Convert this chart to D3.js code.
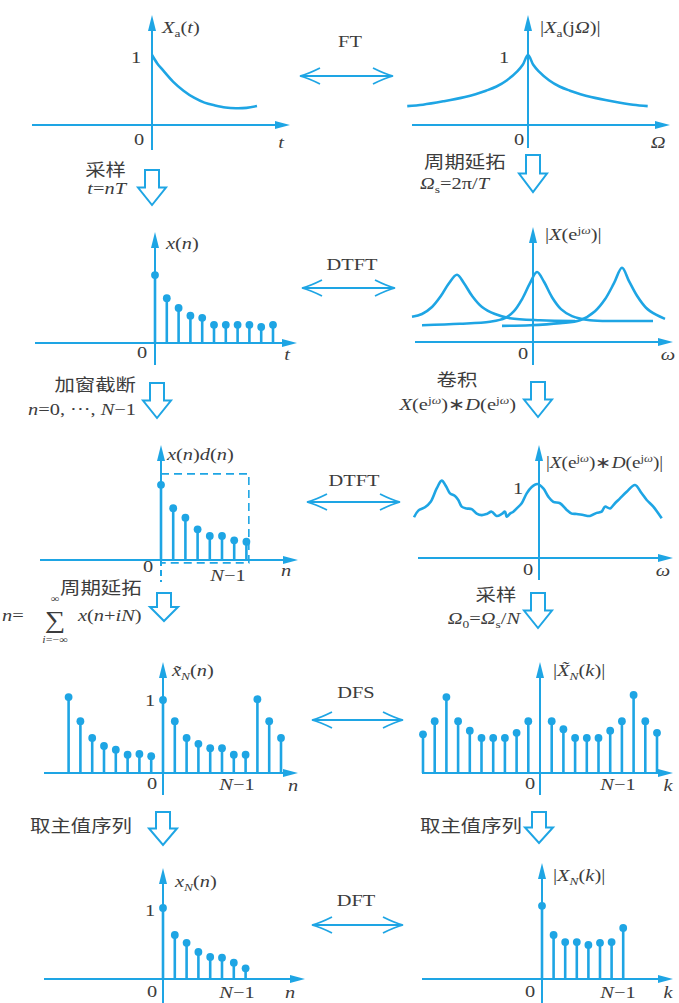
<!DOCTYPE html>
<html>
<head>
<meta charset="utf-8">
<script src="https://cdn.jsdelivr.net/npm/d3@7"></script>
<style>
  body { margin: 0; background: #fff; }
  svg text { font-family: "Liberation Serif", "Noto Sans CJK SC", serif; fill: #3c3c3c; }
</style>
</head>
<body>
<script>
// ---- data ----
// x_a(t), continuous decaying signal
var xaT   = [0, 0.5, 1, 2, 3, 4, 5, 6, 7, 8, 9, 10];
var xaVal = [1, 0.88, 0.79, 0.62, 0.49, 0.39, 0.32, 0.28, 0.25, 0.24, 0.245, 0.27];

// |X_a(jΩ)|
var XaOmega = [-11.5, -10, -8, -6, -5, -4, -3, -2, -1, -0.5, 0, 0.5, 1, 2, 3, 4, 5, 6, 8, 10, 11.4];
var XaMag   = [0.27, 0.29, 0.34, 0.40, 0.44, 0.49, 0.55, 0.64, 0.77, 0.86, 1, 0.86, 0.77, 0.64, 0.55, 0.49, 0.44, 0.40, 0.34, 0.29, 0.27];

// x(n), n = 0..10
var xn = [0.97, 0.64, 0.50, 0.39, 0.36, 0.26, 0.26, 0.26, 0.26, 0.23, 0.26];

// |X(e^jω)|, three shifted copies [ω, value]
var dtftA = [[-12.1,0.36],[-11.1,0.40],[-10.1,0.50],[-9.2,0.66],[-8.4,0.84],[-7.6,0.96],[-6.9,0.84],[-6.1,0.66],[-5.1,0.50],[-3.8,0.40],[-2.3,0.34],[0.7,0.31],[4.2,0.30]];
var dtftB = [[-11.1,0.24],[-7.3,0.26],[-4.3,0.29],[-2.8,0.34],[-1.9,0.44],[-1.1,0.61],[-0.3,0.84],[0.4,1.0],[1.1,0.86],[1.9,0.64],[2.8,0.47],[3.9,0.37],[5.7,0.31],[8.7,0.30],[12.0,0.30]];
var dtftC = [[-3.1,0.23],[-0.3,0.24],[2.7,0.27],[4.7,0.31],[6.2,0.44],[7.2,0.61],[8.1,0.84],[8.9,1.06],[9.6,0.87],[10.4,0.66],[11.3,0.49],[12.3,0.39],[13.2,0.33]];

// x(n)d(n), n = 0..N-1 (N = 8)
var xd = [1.03, 0.71, 0.58, 0.42, 0.33, 0.33, 0.27, 0.25];

// |X(e^jω)*D(e^jω)|
var convW = [-12.5,-12.07,-11.4,-10.83,-10.23,-9.73,-9.3,-8.9,-8.4,-8.07,-7.73,-7.23,-6.73,-6.23,-5.73,-5.23,-4.73,-4.23,-3.73,-3.4,-3.23,-2.9,-2.57,-2.23,-1.73,-1.23,-0.73,-0.17,0.43,0.93,1.43,2.1,2.77,3.27,3.77,4.43,5.1,5.77,6.27,6.6,7.1,7.6,8.1,8.77,9.6,10.27,10.77,11.43,12.27];
var convMag = [0.55,0.64,0.685,0.76,0.94,1.045,0.97,0.874,0.838,0.784,0.694,0.67,0.66,0.60,0.58,0.595,0.626,0.568,0.595,0.626,0.558,0.60,0.626,0.67,0.74,0.874,0.96,1.0,0.94,0.83,0.76,0.74,0.65,0.60,0.595,0.58,0.568,0.61,0.626,0.694,0.67,0.74,0.806,0.896,0.986,0.874,0.784,0.694,0.536];

// periodic extension x~_N(n), n = -8..10
var xpN   = [-8,-7,-6,-5,-4,-3,-2,-1,0,1,2,3,4,5,6,7,8,9,10];
var xpVal = [1.04,0.71,0.48,0.37,0.32,0.25,0.26,0.23,1.0,0.71,0.48,0.40,0.34,0.34,0.25,0.25,1.01,0.71,0.48];

// |X~_N(k)|, k = -10..10 (no mark drawn at k = 0)
var dfsK   = [-10,-9,-8,-7,-6,-5,-4,-3,-2,-1,1,2,3,4,5,6,7,8,9,10];
var dfsVal = [0.53,0.71,1.04,0.71,0.58,0.48,0.48,0.48,0.55,0.71,0.71,0.60,0.48,0.48,0.48,0.58,0.71,1.07,0.71,0.55];

// x_N(n) and |X_N(k)|, 0..N-1
var xNVal = [1, 0.62, 0.51, 0.38, 0.31, 0.30, 0.23, 0.15];
var XNVal = [1.03, 0.62, 0.52, 0.52, 0.48, 0.51, 0.52, 0.72];

// ---- drawing ----
var blue = "#1ea5e4";
var width = 679, height = 1003;
var stretch = 1.2;   // the printed type is a little wide

var svg = d3.select("body").append("svg")
  .attr("width", width)
  .attr("height", height);

// a panel: origin, units and axis extents (pixels)
function panel(p) {
  p.x = d3.scaleLinear().domain([0, 1]).range([p.ox, p.ox + p.ux]);
  p.y = d3.scaleLinear().domain([0, 1]).range([p.oy, p.oy - p.uy]);
  p.g = svg.append("g");

  // x axis
  p.g.append("line")
    .attr("x1", p.xL).attr("x2", p.xR - 6)
    .attr("y1", p.oy).attr("y2", p.oy)
    .attr("stroke", blue).attr("stroke-width", 2);
  p.g.append("path")
    .attr("d", `M${p.xR},${p.oy} L${p.xR - 15},${p.oy - 4} L${p.xR - 15},${p.oy + 4} Z`)
    .attr("fill", blue);

  // y axis
  p.g.append("line")
    .attr("x1", p.ox).attr("x2", p.ox)
    .attr("y1", p.dashBelow ? p.oy : p.yB).attr("y2", p.yT + 6)
    .attr("stroke", blue).attr("stroke-width", 2);
  if (p.dashBelow) {
    p.g.append("line")
      .attr("x1", p.ox).attr("x2", p.ox)
      .attr("y1", p.oy).attr("y2", p.yB)
      .attr("stroke", blue).attr("stroke-width", 2)
      .attr("stroke-dasharray", "6,4");
  }
  p.g.append("path")
    .attr("d", `M${p.ox},${p.yT} L${p.ox - 4},${p.yT + 16} L${p.ox + 4},${p.yT + 16} Z`)
    .attr("fill", blue);
  return p;
}

function stems(p, idx, vals) {
  var data = idx.map((d, i) => ({ n: d, v: vals[i] }));
  p.g.selectAll(null).data(data).enter().append("line")
    .attr("x1", d => p.x(d.n)).attr("x2", d => p.x(d.n))
    .attr("y1", p.oy).attr("y2", d => p.y(d.v))
    .attr("stroke", blue).attr("stroke-width", 2.6);
  p.g.selectAll(null).data(data).enter().append("circle")
    .attr("cx", d => p.x(d.n)).attr("cy", d => p.y(d.v))
    .attr("r", 3.9).attr("fill", blue);
}

function curve(p, pts) {
  var line = d3.line()
    .x(d => p.x(d[0])).y(d => p.y(d[1]))
    .curve(d3.curveCatmullRom.alpha(0.5));
  p.g.append("path").attr("d", line(pts))
    .attr("fill", "none").attr("stroke", blue).attr("stroke-width", 2.6);
}

// text with italic / sub / sup pieces
function rich(x, y, segs, anchor, size) {
  var t = svg.append("text")
    .attr("transform", `translate(${x},${y}) scale(${stretch},1)`)
    .attr("text-anchor", anchor || "start")
    .style("font-size", (size || 17) + "px");
  var shift = 0;
  segs.forEach(function(s) {
    var f = s[1] || "";
    var target = f.indexOf("b") >= 0 ? 4 : (f.indexOf("p") >= 0 ? -6 : 0);
    var sp = t.append("tspan").text(s[0]).attr("dy", target - shift);
    shift = target;
    if (f.indexOf("i") >= 0) sp.style("font-style", "italic");
    if (target !== 0) sp.style("font-size", "0.66em");
  });
  return t;
}

function hollowDown(cx, y0, y1) {
  var ym = y0 + (y1 - y0) * 0.5;
  svg.append("path")
    .attr("d", `M${cx - 7},${y0} L${cx + 7},${y0} L${cx + 7},${ym} L${cx + 14},${ym} L${cx},${y1} L${cx - 14},${ym} L${cx - 7},${ym} Z`)
    .attr("fill", "none").attr("stroke", blue).attr("stroke-width", 2)
    .attr("stroke-linejoin", "miter");
}

function doubleArrow(x0, x1, y) {
  svg.append("line").attr("x1", x0 + 1).attr("x2", x1 - 1).attr("y1", y).attr("y2", y)
    .attr("stroke", blue).attr("stroke-width", 1.8);
  svg.append("path")
    .attr("d", `M${x0 + 20},${y - 8} Q${x0 + 8},${y - 2} ${x0},${y} Q${x0 + 8},${y + 2} ${x0 + 20},${y + 8}`)
    .attr("fill", "none").attr("stroke", blue).attr("stroke-width", 1.8);
  svg.append("path")
    .attr("d", `M${x1 - 20},${y - 8} Q${x1 - 8},${y - 2} ${x1},${y} Q${x1 - 8},${y + 2} ${x1 - 20},${y + 8}`)
    .attr("fill", "none").attr("stroke", blue).attr("stroke-width", 1.8);
}

// row 1
var p1 = panel({ ox: 152, oy: 125, ux: 10.5, uy: 70, xL: 32, xR: 290, yT: 15, yB: 150 });
curve(p1, xaT.map((t, i) => [t, xaVal[i]]));
rich(162, 33, [["X", "i"], ["a", "b"], ["("], ["t", "i"], [")"]]);
rich(136, 63, [["1"]], "middle");
rich(139, 145, [["0"]], "middle");
rich(281, 148, [["t", "i"]], "middle");

var p2 = panel({ ox: 528, oy: 125, ux: 10.5, uy: 70, xL: 412, xR: 670, yT: 15, yB: 148 });
curve(p2, XaOmega.map((w, i) => [w, XaMag[i]]));
rich(540, 33, [["|"], ["X", "i"], ["a", "b"], ["(j"], ["Ω", "i"], [")|"]]);
rich(504, 63, [["1"]], "middle");
rich(519, 145, [["0"]], "middle");
rich(658, 148, [["Ω", "i"]], "middle");

doubleArrow(300, 393, 76);
rich(350, 47, [["FT"]], "middle");

hollowDown(152, 170, 205);
rich(126, 176, [["采样"]], "end");
rich(126, 194, [["t", "i"], ["="], ["nT", "i"]], "end");
hollowDown(533, 155, 192);
rich(424, 168, [["周期延拓"]]);
rich(420, 189, [["Ω", "i"], ["s", "b"], ["=2π/"], ["T", "i"]]);

// row 2
var p3 = panel({ ox: 155, oy: 343, ux: 11.8, uy: 70, xL: 35, xR: 297, yT: 232, yB: 365 });
stems(p3, xn.map((d, i) => i), xn);
rich(166, 249, [["x", "i"], ["("], ["n", "i"], [")"]]);
rich(142, 358, [["0"]], "middle");
rich(287, 360, [["t", "i"]], "middle");

var p4 = panel({ ox: 533, oy: 342, ux: 10, uy: 70, xL: 415, xR: 673, yT: 227, yB: 365 });
curve(p4, dtftA);
curve(p4, dtftB);
curve(p4, dtftC);
rich(545, 240, [["|"], ["X", "i"], ["(e"], ["j", "p"], ["ω", "pi"], [")|"]]);
rich(523, 359, [["0"]], "middle");
rich(668, 360, [["ω", "i"]], "middle");

doubleArrow(302, 395, 288);
rich(352, 270, [["DTFT"]], "middle");

hollowDown(157, 383, 418);
rich(136, 391, [["加窗截断"]], "end");
rich(136, 415, [["n", "i"], ["=0, ···, "], ["N", "i"], ["−1"]], "end");
hollowDown(538, 382, 417);
rich(457, 386, [["卷积"]], "middle");
rich(516, 410, [["X", "i"], ["(e"], ["j", "p"], ["ω", "pi"], [")∗"], ["D", "i"], ["(e"], ["j", "p"], ["ω", "pi"], [")"]], "end");

// row 3
var p5 = panel({ ox: 161, oy: 560, ux: 12.2, uy: 73, xL: 40, xR: 298, yT: 445, yB: 582, dashBelow: true });
p5.g.append("rect")
  .attr("x", p5.x(0)).attr("y", p5.y(1.18))
  .attr("width", p5.x(7.2) - p5.x(0))
  .attr("height", p5.y(-0.04) - p5.y(1.18))
  .attr("fill", "none").attr("stroke", blue).attr("stroke-width", 1.6)
  .attr("stroke-dasharray", "8,5");
stems(p5, xd.map((d, i) => i), xd);
rich(167, 460, [["x", "i"], ["("], ["n", "i"], [")"], ["d", "i"], ["("], ["n", "i"], [")"]]);
rich(148, 572, [["0"]], "middle");
rich(228, 581, [["N", "i"], ["−1"]], "middle");
rich(286, 576, [["n", "i"]], "middle");

var p6 = panel({ ox: 539, oy: 558, ux: 10, uy: 74, xL: 418, xR: 673, yT: 445, yB: 580 });
curve(p6, convW.map((w, i) => [w, convMag[i]]));
rich(546, 468, [["|"], ["X", "i"], ["(e"], ["j", "p"], ["ω", "pi"], [")∗"], ["D", "i"], ["(e"], ["j", "p"], ["ω", "pi"], [")|"]], "start", 16);
rich(518, 494, [["1"]], "middle");
rich(528, 575, [["0"]], "middle");
rich(663, 576, [["ω", "i"]], "middle");

doubleArrow(307, 400, 502);
rich(354, 486, [["DTFT"]], "middle");

hollowDown(164, 593, 621);
rich(60, 594, [["周期延拓"]]);
rich(2, 621, [["n", "i"], ["="]]);
rich(55, 628, [["∑"]], "middle", 24);
rich(55, 602, [["∞"]], "middle", 10);
rich(55, 643, [["i", "i"], ["=−∞"]], "middle", 10);
rich(78, 621, [["x", "i"], ["("], ["n", "i"], ["+"], ["iN", "i"], [")"]]);
hollowDown(538, 593, 628);
rich(496, 601, [["采样"]], "middle");
rich(520, 624, [["Ω", "i"], ["0", "b"], ["="], ["Ω", "i"], ["s", "b"], ["/"], ["N", "i"]], "end");

// row 4
var p7 = panel({ ox: 163, oy: 773, ux: 11.8, uy: 73, xL: 44, xR: 298, yT: 662, yB: 795 });
stems(p7, xpN, xpVal);
rich(172, 676, [["x\u0303", "i"], ["N", "bi"], ["("], ["n", "i"], [")"]]);
rich(150, 706, [["1"]], "middle");
rich(152, 789, [["0"]], "middle");
rich(237, 790, [["N", "i"], ["−1"]], "middle");
rich(293, 791, [["n", "i"]], "middle");

var p8 = panel({ ox: 540, oy: 773, ux: 11.7, uy: 73, xL: 422, xR: 673, yT: 662, yB: 795 });
stems(p8, dfsK, dfsVal);
rich(553, 676, [["|"], ["X\u0303", "i"], ["N", "bi"], ["("], ["k", "i"], [")|"]]);
rich(530, 789, [["0"]], "middle");
rich(618, 790, [["N", "i"], ["−1"]], "middle");
rich(668, 791, [["k", "i"]], "middle");

doubleArrow(312, 403, 720);
rich(356, 698, [["DFS"]], "middle");

hollowDown(163, 812, 845);
rich(30, 832, [["取主值序列"]]);
hollowDown(539, 812, 843);
rich(420, 832, [["取主值序列"]]);

// row 5
var p9 = panel({ ox: 163, oy: 979, ux: 11.8, uy: 71, xL: 44, xR: 305, yT: 868, yB: 1003 });
stems(p9, xNVal.map((d, i) => i), xNVal);
rich(175, 887, [["x", "i"], ["N", "bi"], ["("], ["n", "i"], [")"]]);
rich(150, 916, [["1"]], "middle");
rich(152, 997, [["0"]], "middle");
rich(237, 998, [["N", "i"], ["−1"]], "middle");
rich(290, 998, [["n", "i"]], "middle");

var p10 = panel({ ox: 542, oy: 979, ux: 11.6, uy: 71, xL: 422, xR: 673, yT: 863, yB: 1003 });
stems(p10, XNVal.map((d, i) => i), XNVal);
rich(553, 881, [["|"], ["X", "i"], ["N", "bi"], ["("], ["k", "i"], [")|"]]);
rich(530, 997, [["0"]], "middle");
rich(618, 998, [["N", "i"], ["−1"]], "middle");
rich(668, 998, [["k", "i"]], "middle");

doubleArrow(312, 403, 925);
rich(356, 906, [["DFT"]], "middle");
</script>
</body>
</html>
